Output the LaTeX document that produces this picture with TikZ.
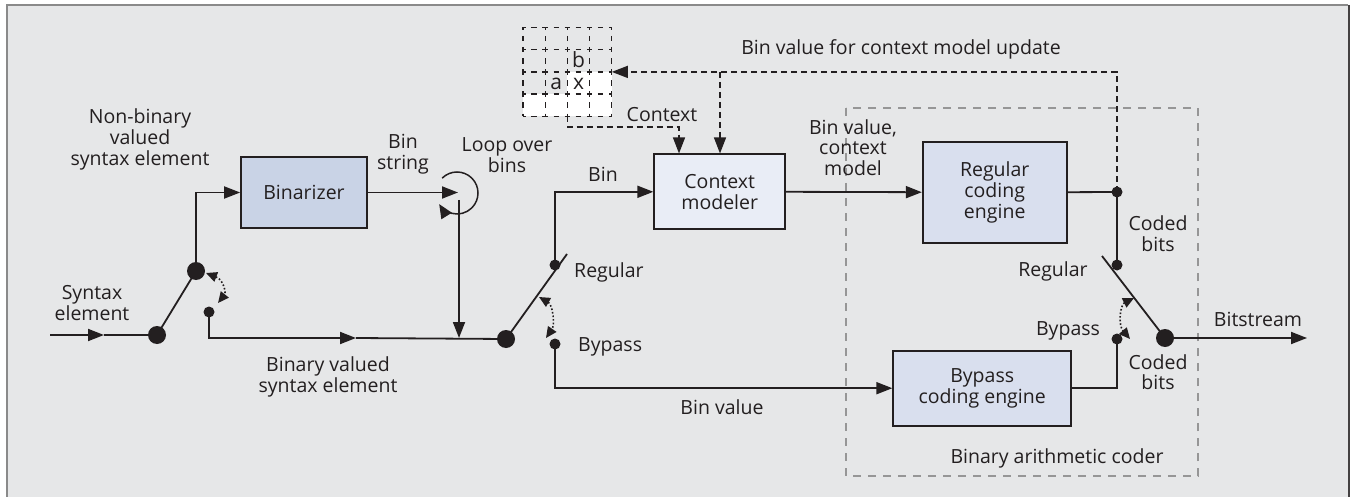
\documentclass[tikz,border=0pt]{standalone}
\usepackage{fontspec}
\setmainfont{Open Sans}
\usetikzlibrary{arrows.meta,calc}

\definecolor{bg}{RGB}{230,231,232}
\definecolor{framegray}{RGB}{138,138,138}
\definecolor{ink}{RGB}{35,31,32}
\definecolor{binfill}{RGB}{201,211,230}
\definecolor{ctxfill}{RGB}{233,237,246}
\definecolor{engfill}{RGB}{217,223,238}
\definecolor{dashgray}{RGB}{150,150,150}

\begin{document}
\begin{tikzpicture}[x=1pt,y=-1pt,
  every node/.style={font=\fontsize{19.5}{20.8}\selectfont, text=ink, inner sep=0pt},
  lbl/.style={align=center},
  one/.style={text height=14pt, text depth=0pt},
  blockbox/.style={draw=ink, line width=1.7pt, align=center},
  conn/.style={draw=ink, line width=1.8pt},
  tip/.style={-{Triangle[length=16pt,width=12pt]}},
  fb/.style={draw=ink, line width=1.4pt, dash pattern=on 6pt off 4pt},
  griddash/.style={draw=ink, line width=1.3pt, dash pattern=on 5.55pt off 5.55pt, dash phase=2.775pt},
  dotarr/.style={draw=ink, line width=1.6pt, dotted, {Triangle[length=11pt,width=10pt]}-{Triangle[length=11pt,width=10pt]}},
  bigdot/.style={circle, fill=ink, minimum size=18pt, inner sep=0pt},
  smalldot/.style={circle, fill=ink, minimum size=11pt, inner sep=0pt},
]
\useasboundingbox (0,0) rectangle (1351,497);
% background and frame
\fill[white] (0,0) rectangle (1351,497);
\fill[bg] (6,5) rectangle (1349,497);
\draw[framegray, line width=2pt] (6.5,497) -- (6.5,5.5) -- (1348,5.5);
\draw[ink!85, line width=2pt] (1348.5,5) -- (1348.5,497);

% binary arithmetic coder dashed box
\draw[dashgray, line width=1.4pt, dash pattern=on 8pt off 7pt] (846,108) rectangle (1198,476);

% context template grid
\fill[white] (567.4,71.9) rectangle (611.8,94.1);
\fill[white] (523,94.1) rectangle (611.8,116.3);
\foreach \i in {0,...,4}{
  \draw[griddash] ({523+22.2*\i},27.5) -- ({523+22.2*\i},116.3);
  \draw[griddash] (523,{27.5+22.2*\i}) -- (611.8,{27.5+22.2*\i});
}
\node[one, font=\fontsize{21}{21}\selectfont] (cb) at (578.5,61) {b};
\node[one, font=\fontsize{21}{21}\selectfont] (ca) at (556.3,83) {a};
\node[one, font=\fontsize{21}{21}\selectfont] (cx) at (578.5,83) {x};
\coordinate (gridR) at (611.8,71.9);
\coordinate (gridB) at (567.4,116.3);

% blocks
\node[blockbox, fill=binfill, minimum width=126pt, minimum height=71pt] (binz) at (304,192.5) {Binarizer};
\node[blockbox, fill=ctxfill, minimum width=131pt, minimum height=75pt] (ctx) at (719.7,191.8) {Context\\modeler};
\node[blockbox, fill=engfill, minimum width=144pt, minimum height=101pt] (rce) at (994.7,192.2) {Regular\\coding\\engine};
\node[blockbox, fill=engfill, minimum width=178pt, minimum height=75pt] (bpe) at (982.2,388.2) {Bypass\\coding engine};

% switch contacts
\node[bigdot] (sw1a) at (157,335) {};
\node[bigdot] (sw1b) at (196,271) {};
\node[smalldot] (sw1c) at (209,312) {};
\node[bigdot] (sw2) at (506,339) {};
\node[smalldot] (reg2) at (555,265) {};
\node[smalldot] (byp2) at (555,344) {};
\node[smalldot] (j3) at (1117,192) {};
\node[smalldot] (reg3) at (1117,265) {};
\node[smalldot] (byp3) at (1117,339) {};
\node[bigdot] (sw3) at (1165,338) {};

\coordinate (in0) at (50,335);
\coordinate (inmid) at (104,335);
\coordinate (bvmid) at (356,338);
\coordinate (loopc) at (458,192.5);
\coordinate (loopo) at (457,193);
\coordinate (loopv) at (459,200);
\coordinate (lj) at (459,338);
\coordinate (lev2end) at (567,254);
\coordinate (lev3start) at (1102,256);
\coordinate (bsend) at (1307,338);
\coordinate (fbcorner) at (1117,71.9);
\coordinate (fbbranch) at (720,71.9);
\coordinate (ctxturn) at (567.4,127);
\coordinate (ctxturn2) at (679,127);

% input and first switch
\draw[conn,tip] (in0) -- (inmid);
\draw[conn] (inmid) -- (sw1a);
\draw[conn] (sw1a.center) -- (sw1b.center);
\draw[conn,tip] (sw1b.center) |- (binz.west);
\draw[conn,tip] (sw1c.center) |- (bvmid);
\draw[conn] (bvmid) -- (sw2.center);
\draw[dotarr] (206,273) .. controls (224,280) and (226,293) .. (218,303);

% binarizer output and loop
\draw[conn,tip] (binz.east) -- (loopc);
\draw[conn,tip] (loopv) -- (lj);
\draw[draw=ink, line width=1.5pt, -{Triangle[length=14pt,width=12pt]}] ($(loopo)+(225:21)$) arc[start angle=225, end angle=508, radius=21];

% second switch
\draw[conn] (sw2.center) -- (lev2end);
\draw[conn,tip] (reg2.center) |- (ctx.west);
\draw[conn,tip] (byp2.center) |- (bpe.west);
\draw[dotarr] (539,297) .. controls (553,305) and (555,325) .. (546,338);

% regular path
\draw[conn,tip] (ctx.east) -- (rce.west);
\draw[conn] (rce.east) -- (j3.center);
\draw[conn] (j3.center) -- (reg3.center);
\draw[conn] (bpe.east) -| (byp3.center);
\draw[conn] (lev3start) -- (sw3.center);
\draw[conn,tip] (sw3.center) -- (bsend);
\draw[dotarr] (1134,298) .. controls (1120,305) and (1118,325) .. (1130,339);

% dashed context paths
\draw[fb,tip] (j3.center) -- (fbcorner) -- (gridR);
\draw[fb,tip] (fbbranch) -- (fbbranch |- ctx.north);
\draw[fb,tip] (gridB) -- (ctxturn) -- (ctxturn2) -- (ctxturn2 |- ctx.north);

% labels
\node[lbl] (lnb) at (140,139.5) {Non-binary\\valued\\syntax element};
\node[lbl] (lse) at (92,302.7) {Syntax\\element};
\node[lbl] (lbv) at (328,376.7) {Binary valued\\syntax element};
\node[lbl] (lbs) at (403,154) {Bin\\string};
\node[lbl] (llb) at (507,155) {Loop over\\bins};
\node[one] (lbin) at (603,175) {Bin};
\node[one] (lctx) at (662,115) {Context};
\node[one] (lfb) at (901,48) {Bin value for context model update};
\node[lbl] (lbvc) at (853,147.5) {Bin value,\\context\\model};
\node[one, anchor=west] (lreg2) at (574,270) {Regular};
\node[one, anchor=west] (lbyp2) at (578,344) {Bypass};
\node[one] (lbval) at (722,407) {Bin value};
\node[lbl] (lcb1) at (1158,233.5) {Coded\\bits};
\node[lbl] (lcb2) at (1158,372.2) {Coded\\bits};
\node[one] (lreg3) at (1053,269) {Regular};
\node[one] (lbyp3) at (1068,328) {Bypass};
\node[one] (lbst) at (1258,319) {Bitstream};
\node[one] (lbac) at (1057,456) {Binary arithmetic coder};
\end{tikzpicture}
\end{document}
